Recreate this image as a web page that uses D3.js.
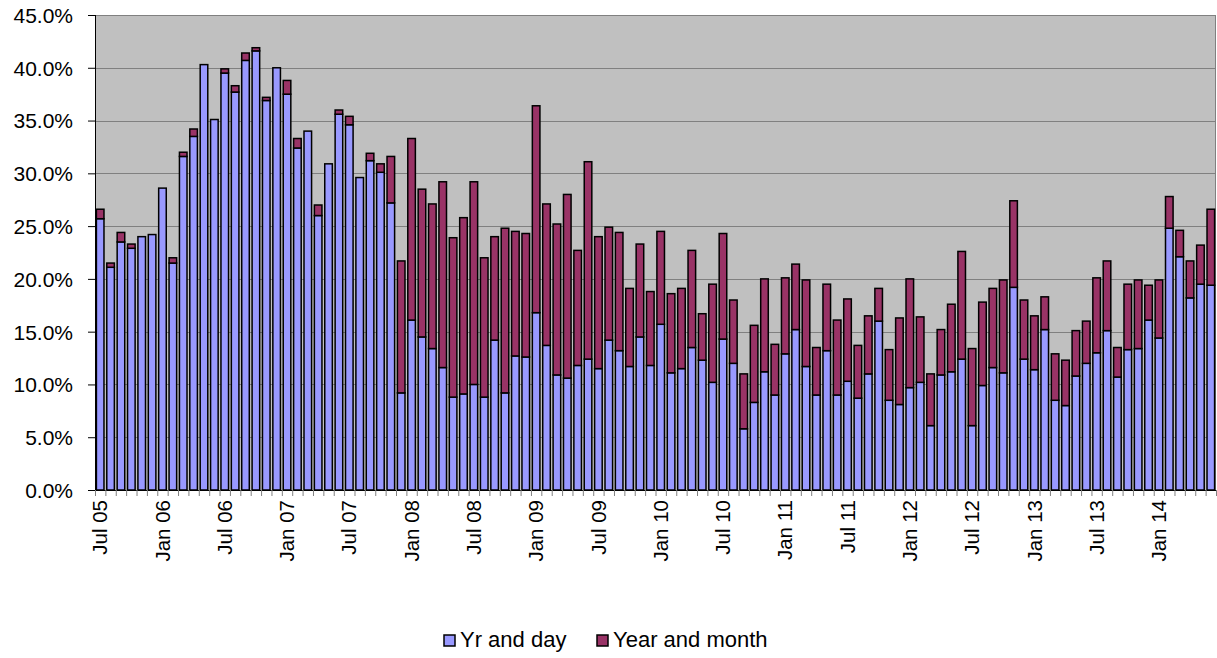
<!DOCTYPE html>
<html>
<head>
<meta charset="utf-8">
<script src="https://cdn.jsdelivr.net/npm/d3@7"></script>
<style>
  body { margin: 0; background: #fff; }
  svg text { font-family: "Liberation Sans", Arial, sans-serif; fill: #000; }
</style>
</head>
<body>
<div class="chart"></div>
<script>
// monthly categories, Jul 05 .. Jun 14
var months = d3.timeMonths(new Date(2005, 6, 1), new Date(2014, 6, 1));
var fmt = d3.timeFormat("%b %y");
var categories = months.map(function(d) { return fmt(d); });

var tickLabels = ["Jul 05", "Jan 06", "Jul 06", "Jan 07", "Jul 07", "Jan 08", "Jul 08", "Jan 09",
  "Jul 09", "Jan 10", "Jul 10", "Jan 11", "Jul 11", "Jan 12", "Jul 12", "Jan 13", "Jul 13", "Jan 14"];

var yrAndDay = [
  25.7, 21.1, 23.5, 22.9, 24.0, 24.2, 28.6, 21.5, 31.6, 33.5, 40.3, 35.1,
  39.5, 37.7, 40.7, 41.6, 36.9, 40.0, 37.5, 32.4, 34.0, 26.0, 30.9, 35.6,
  34.6, 29.6, 31.2, 30.1, 27.2, 9.2, 16.1, 14.5, 13.4, 11.6, 8.8, 9.1,
  10.0, 8.8, 14.2, 9.2, 12.7, 12.6, 16.8, 13.7, 10.9, 10.6, 11.8, 12.4,
  11.5, 14.2, 13.2, 11.7, 14.5, 11.8, 15.7, 11.1, 11.5, 13.5, 12.3, 10.2,
  14.3, 12.0, 5.8, 8.3, 11.2, 9.0, 12.9, 15.2, 11.7, 9.0, 13.2, 9.0,
  10.3, 8.7, 11.0, 16.0, 8.5, 8.1, 9.7, 10.2, 6.1, 10.9, 11.2, 12.4,
  6.1, 9.9, 11.6, 11.1, 19.2, 12.4, 11.4, 15.2, 8.5, 8.0, 10.8, 12.0,
  13.0, 15.1, 10.7, 13.3, 13.4, 16.1, 14.4, 24.8, 22.1, 18.2, 19.5, 19.4
];

var yearAndMonth = [
  0.9, 0.4, 0.9, 0.4, 0.0, 0.0, 0.0, 0.5, 0.4, 0.7, 0.0, 0.0,
  0.4, 0.6, 0.7, 0.3, 0.3, 0.0, 1.3, 0.9, 0.0, 1.0, 0.0, 0.4,
  0.8, 0.0, 0.7, 0.8, 4.4, 12.5, 17.2, 14.0, 13.7, 17.6, 15.1, 16.7,
  19.2, 13.2, 9.8, 15.6, 11.8, 11.7, 19.6, 13.4, 14.3, 17.4, 10.9, 18.7,
  12.5, 10.7, 11.2, 7.4, 8.8, 7.0, 8.8, 7.5, 7.6, 9.2, 4.4, 9.3,
  10.0, 6.0, 5.2, 7.3, 8.8, 4.8, 7.2, 6.2, 8.2, 4.5, 6.3, 7.1,
  7.8, 5.0, 5.5, 3.1, 4.8, 8.2, 10.3, 6.2, 4.9, 4.3, 6.4, 10.2,
  7.3, 7.9, 7.5, 8.8, 8.2, 5.6, 5.1, 3.1, 4.4, 4.3, 4.3, 4.0,
  7.1, 6.6, 2.8, 6.2, 6.5, 3.3, 5.5, 3.0, 2.5, 3.5, 3.7, 7.2
];

var seriesNames = ["Yr and day", "Year and month"];
var colors = ["#9999FF", "#993366"];
var yTicks = d3.range(0, 50, 5);

var svgWidth = 1217;
var svgHeight = 658;
var margin = { top: 15, right: 1, bottom: 168, left: 95 };
var width = svgWidth - margin.left - margin.right;
var height = svgHeight - margin.top - margin.bottom;

var svg = d3.select(".chart")
  .append("svg")
  .attr("width", svgWidth)
  .attr("height", svgHeight);

var chart = svg.append("g")
  .attr("transform", "translate(" + margin.left + "," + margin.top + ")");

var table = categories.map(function(c, i) {
  return { cat: c, a: yrAndDay[i], b: yearAndMonth[i] };
});

var stack = d3.stack().keys(["a", "b"]);
var layers = stack(table);

var x = d3.scaleBand().domain(categories).range([0, width])
  .paddingInner(0.27).paddingOuter(0.135);
var xEdge = d3.scaleLinear().domain([0, categories.length]).range([0, width]);
var y = d3.scaleLinear().domain([0, 45]).range([height, 0]);

// plot area
chart.append("rect")
  .attr("width", width)
  .attr("height", height)
  .attr("fill", "#C0C0C0");

// gridlines
chart.append("g")
  .selectAll("line")
  .data(yTicks.slice(1))
  .enter()
  .append("line")
  .attr("x1", 0)
  .attr("x2", width)
  .attr("y1", function(d) { return Math.round(y(d)) + 0.5; })
  .attr("y2", function(d) { return Math.round(y(d)) + 0.5; })
  .attr("stroke", "#808080")
  .attr("stroke-width", 1);

chart.append("line")
  .attr("x1", width - 0.5).attr("x2", width - 0.5)
  .attr("y1", 0).attr("y2", height)
  .attr("stroke", "#808080");

// bars
chart.selectAll("g.layer")
  .data(layers)
  .enter()
  .append("g")
  .attr("class", "layer")
  .attr("fill", function(d, i) { return colors[i]; })
  .selectAll("rect")
  .data(function(d) { return d.filter(function(p) { return p[1] - p[0] > 0; }); })
  .enter()
  .append("rect")
  .attr("x", function(d) { return x(d.data.cat); })
  .attr("width", x.bandwidth())
  .attr("y", function(d) { return y(d[1]); })
  .attr("height", function(d) { return y(d[0]) - y(d[1]); })
  .attr("stroke", "#000")
  .attr("stroke-width", 1.5);

// y axis
var leftAxis = d3.axisLeft(y)
  .tickValues(yTicks)
  .tickSize(7)
  .tickPadding(15)
  .tickFormat(function(d) { return d.toFixed(1) + "%"; });

var yAxisG = chart.append("g").call(leftAxis);
yAxisG.select(".domain").remove();
yAxisG.selectAll("text").style("font-size", "21px").attr("dy", "0.35em");
yAxisG.selectAll("line").attr("stroke", "#000");
chart.append("line")
  .attr("x1", 0.5).attr("x2", 0.5).attr("y1", 0).attr("y2", height)
  .attr("stroke", "#000");

// x axis: ticks at category edges, labels every 6 months
var edgeAxis = d3.axisBottom(xEdge)
  .tickValues(d3.range(categories.length + 1))
  .tickSize(6)
  .tickFormat("");
var edgeG = chart.append("g")
  .attr("transform", "translate(0," + height + ")")
  .call(edgeAxis);
edgeG.select(".domain").attr("stroke", "#000");
edgeG.selectAll("line").attr("stroke", "#808080");

var labelAxis = d3.axisBottom(x)
  .tickValues(tickLabels)
  .tickSize(0)
  .tickPadding(0);
var labelG = chart.append("g")
  .attr("transform", "translate(0," + height + ")")
  .call(labelAxis);
labelG.select(".domain").remove();
labelG.selectAll("text")
  .style("font-size", "20.5px")
  .style("text-anchor", "end")
  .attr("y", 0)
  .attr("dy", "0.35em")
  .attr("transform", "translate(0,10) rotate(-90)")
  .attr("x", 0);

// legend
var legendItems = [
  { name: seriesNames[0], color: colors[0], x: 444 },
  { name: seriesNames[1], color: colors[1], x: 597 }
];
var legend = svg.append("g");
var li = legend.selectAll("g")
  .data(legendItems)
  .enter()
  .append("g")
  .attr("transform", function(d) { return "translate(" + d.x + ",635)"; });
li.append("rect")
  .attr("width", 11).attr("height", 11)
  .attr("fill", function(d) { return d.color; })
  .attr("stroke", "#000").attr("stroke-width", 1.5);
li.append("text")
  .attr("x", 16).attr("y", 12)
  .style("font-size", "22px")
  .text(function(d) { return d.name; });
</script>
</body>
</html>
